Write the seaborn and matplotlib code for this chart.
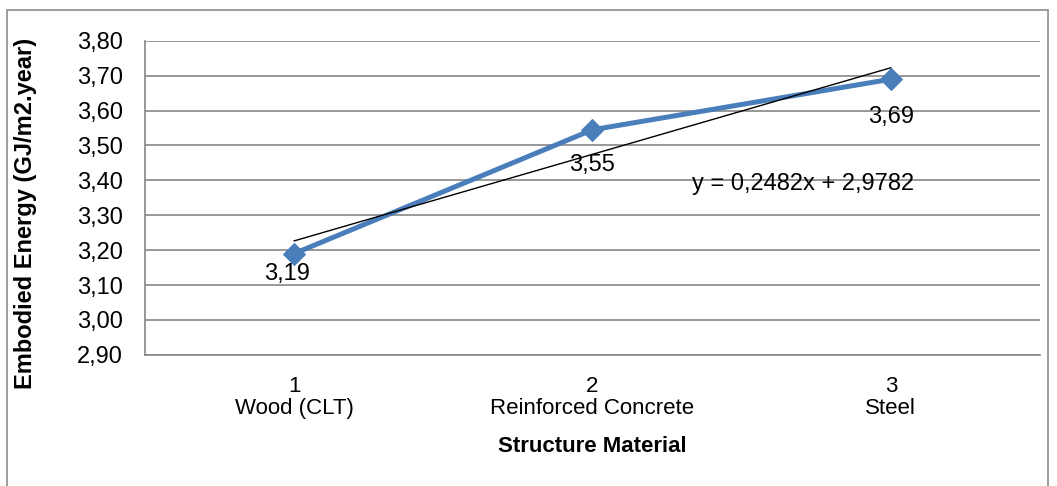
import matplotlib
matplotlib.use("Agg")
import numpy as np
import pandas as pd
import seaborn as sns
import matplotlib.pyplot as plt
from matplotlib.ticker import FuncFormatter, FixedLocator
from matplotlib.patches import Rectangle

# data
materials = ["Wood (CLT)", "Reinforced Concrete", "Steel"]
positions = [1, 2, 3]
energy = [3.19, 3.545, 3.69]
value_labels = ["3,19", "3,55", "3,69"]
slope, intercept = 0.2482, 2.9782

df = pd.DataFrame({"pos": positions, "energy": energy})

sns.set_style("white")
plt.rcParams["font.family"] = ["Liberation Sans", "DejaVu Sans"]
plt.rcParams["text.color"] = "black"
plt.rcParams["axes.labelcolor"] = "black"
plt.rcParams["xtick.labelcolor"] = "black"
plt.rcParams["ytick.labelcolor"] = "black"

fig = plt.figure(figsize=(10.57, 4.86), dpi=100)
ax = fig.add_axes([0.137, 0.270, 0.847, 0.646])

# outer chart border
fig.patches.append(Rectangle((0.0066, -0.01), 0.985, 0.99, transform=fig.transFigure,
                             fill=False, edgecolor="#8c8c8c", linewidth=1.2))

sns.lineplot(data=df, x="pos", y="energy", ax=ax, color="#4a7ebb", linewidth=3.6,
             marker="D", markersize=11, markeredgecolor="#4a7ebb", zorder=3)

# linear trend line
tx = np.array([positions[0], positions[-1]])
ax.plot(tx, slope * tx + intercept, color="black", linewidth=1.0, zorder=4)

offsets = [(-5, -15), (0, -25), (0, -27)]
for x, y, lab, off in zip(positions, energy, value_labels, offsets):
    ax.annotate(lab, (x, y), xytext=off, textcoords="offset points",
                ha="center", va="center", fontsize=17)

ax.text(0.735, 0.545, "y = 0,2482x + 2,9782", transform=ax.transAxes,
        ha="center", va="center", fontsize=17)

ax.set_xlim(0.5, 3.5)
ax.set_ylim(2.90, 3.80)
ax.set_yticks(np.arange(2.90, 3.801, 0.10))
ax.yaxis.set_major_formatter(FuncFormatter(lambda v, p: f"{v:.2f}".replace(".", ",")))
ax.set_xticks(positions)
ax.set_xticklabels([f"{p}\n{m}" for p, m in zip(positions, materials)], fontsize=16,
                   linespacing=1.1)
ax.xaxis.set_minor_locator(FixedLocator([0.5, 1.5, 2.5, 3.5]))
ax.tick_params(axis="x", which="major", length=0, pad=15)
ax.tick_params(axis="x", which="minor", length=7, color="#868686", width=1.2, direction="out")
ax.tick_params(axis="y", length=7, color="#868686", width=1.2, direction="out", labelsize=17, pad=9)

ax.grid(axis="y", color="#868686", linewidth=1.2)
ax.set_axisbelow(True)
for s in ["top", "right"]:
    ax.spines[s].set_visible(False)
for s in ["left", "bottom"]:
    ax.spines[s].set_color("#868686")
    ax.spines[s].set_linewidth(1.2)

ax.set_xlabel("Structure Material", fontsize=16, fontweight="bold", labelpad=12)
ax.set_ylabel("Embodied Energy (GJ/m2.year)", fontsize=17, fontweight="bold")
ax.yaxis.set_label_coords(-0.12, 0.45)

fig.savefig("out.png", dpi=100)
